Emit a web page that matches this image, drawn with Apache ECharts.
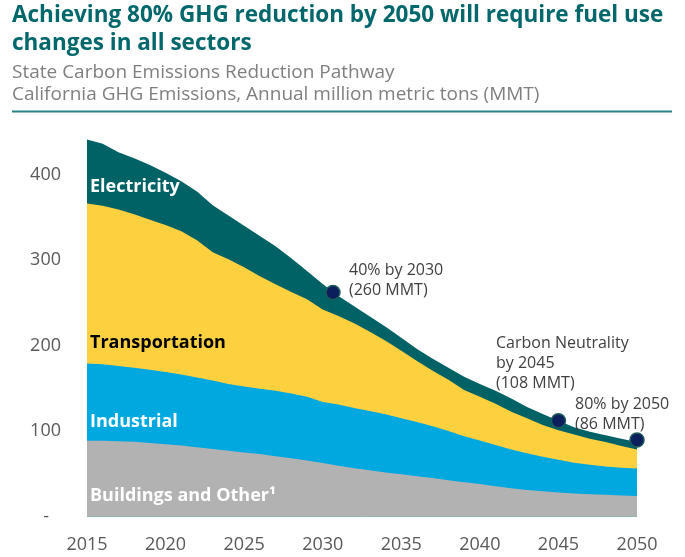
<!DOCTYPE html>
<html><head><meta charset="utf-8">
<script src="https://cdn.jsdelivr.net/npm/echarts@6/dist/echarts.min.js"></script>
<style>html,body{margin:0;padding:0;background:#fff}#main{width:685px;height:557px}</style>
</head>
<body><div id="main"></div>
<script>
const years = [2015,2016,2017,2018,2019,2020,2021,2022,2023,2024,2025,2026,2027,2028,2029,2030,2031,2032,2033,2034,2035,2036,2037,2038,2039,2040,2041,2042,2043,2044,2045,2046,2047,2048,2049,2050];
const buildings = [88.5,88.5,88,87.5,86,84.5,83,81,79,77,75,73,70.5,68,65.5,62.5,59.5,56.5,54,51.5,49.5,47,45,42.5,40,38,35.5,33,31,29.5,28,27,26,25.5,24.5,24];
const industrial = [90.5,89.5,88,86.5,85.5,84.5,83,81.5,80,78,77,76.5,76.5,76,74.5,71.5,71.5,70.5,69.5,68,65.5,63.5,60.5,57.5,54,51,48,45.5,43,40.5,38.5,36,34.5,33,32.5,32];
const transportation = [187,185.5,183,179.5,175.5,172,167.5,160.5,150,146,139.5,131.5,124.5,118.5,114,108,103.5,99,92.5,86,79,71.5,65,60,54,51,48.5,44,41,37,34.5,33,30.5,28.5,25.5,22.5];
const electricity = [75,72.5,67,65.5,64,61,58.5,57,55,51,48.5,47,44.5,39.5,33,30,23.5,20,18,16.5,15,14,14,14,15.5,15,15,15.5,13,13,11,8.5,8,8,8.5,8.5];
const milestoneYears = [2030.65, 2045, 2050];
const milestoneValues = [262, 112, 89.5];
const xTicks = [2015,2020,2025,2030,2035,2040,2045,2050];
const yTicks = [0,100,200,300,400];

const FONT = '"Open Sans", sans-serif';
// stacked layers, bottom to top
const layers = [
  {name:'Buildings and Other', values:buildings, color:'#B2B2B2'},
  {name:'Industrial', values:industrial, color:'#00A8E0'},
  {name:'Transportation', values:transportation, color:'#FDD040'},
  {name:'Electricity', values:electricity, color:'#006264'}
];
let running = years.map(()=>0);
layers.forEach(l => { running = running.map((s,i)=>s + l.values[i]); l.cum = running.slice(); });

const areaSeries = layers.slice().reverse().map(l => ({
  name:l.name, type:'line', data:years.map((y,i)=>[y, l.cum[i]]), symbol:'none', smooth:false,
  lineStyle:{width:0}, areaStyle:{color:l.color, opacity:1, origin:'start'}, itemStyle:{color:l.color},
  silent:true, z:2
}));

const chart = echarts.init(document.getElementById('main'), null, {renderer:'canvas'});
chart.setOption({
  animation:false,
  grid:{left:87, right:48, top:131.75, bottom:40.5, containLabel:false},
  xAxis:{type:'value', min:2015, max:2050, interval:5,
    axisLine:{show:true, onZero:false, lineStyle:{color:'#d9d9d9', width:1}},
    axisTick:{show:false}, splitLine:{show:false},
    axisLabel:{color:'#595959', fontFamily:FONT, fontSize:18, margin:19,
      formatter: v => xTicks.includes(v) ? String(v) : ''}},
  yAxis:{type:'value', min:0, max:450, interval:100,
    axisLine:{show:false}, axisTick:{show:false}, splitLine:{show:false},
    axisLabel:{color:'#595959', fontFamily:FONT, fontSize:18, margin:26,
      formatter: v => v===0 ? '{d|-}' : (yTicks.includes(v) ? String(v) : ''),
      rich:{d:{color:'#595959', fontFamily:FONT, fontSize:18, padding:[0,12,0,0]}}}},
  series: areaSeries.concat([
    {name:'Milestones', type:'scatter', data:milestoneYears.map((y,i)=>[y,milestoneValues[i]]),
      symbolSize:14, itemStyle:{color:'#0A1F5C', opacity:1, borderColor:'#1E5A5A', borderWidth:1.5}, z:5, silent:true}
  ]),
  graphic:[
    {type:'text', left:12, top:2, style:{text:'Achieving 80% GHG reduction by 2050 will require fuel use\nchanges in all sectors',
      font:'bold 22.5px '+FONT, fill:'#00676B', lineHeight:27.5}},
    {type:'text', left:12, top:62, style:{text:'State Carbon Emissions Reduction Pathway\nCalifornia GHG Emissions, Annual million metric tons (MMT)',
      font:'19px '+FONT, fill:'#7F7F7F', lineHeight:22}},
    {type:'line', shape:{x1:12, y1:111.5, x2:672, y2:111.5}, style:{stroke:'#2B8184', lineWidth:2}},
    {type:'text', x:90, y:187, style:{text:'Electricity', font:'bold 18px '+FONT, fill:'#ffffff', verticalAlign:'middle'}, z:10},
    {type:'text', x:90, y:342.5, style:{text:'Transportation', font:'bold 18px '+FONT, fill:'#000000', verticalAlign:'middle'}, z:10},
    {type:'text', x:90, y:421.5, style:{text:'Industrial', font:'bold 18px '+FONT, fill:'#ffffff', verticalAlign:'middle'}, z:10},
    {type:'text', x:90, y:495.5, style:{text:'Buildings and Other¹', font:'bold 18px '+FONT, fill:'#ffffff', verticalAlign:'middle'}, z:10},
    {type:'text', x:349, y:260, style:{text:'40% by 2030\n(260 MMT)', font:'16px '+FONT, fill:'#404040', lineHeight:20, verticalAlign:'top'}, z:10},
    {type:'text', x:496, y:333, style:{text:'Carbon Neutrality\nby 2045\n(108 MMT)', font:'16px '+FONT, fill:'#404040', lineHeight:20, verticalAlign:'top'}, z:10},
    {type:'text', x:575, y:395, style:{text:'80% by 2050\n(86 MMT)', font:'16px '+FONT, fill:'#404040', lineHeight:19.5, verticalAlign:'top'}, z:10}
  ]
});
</script></body></html>
